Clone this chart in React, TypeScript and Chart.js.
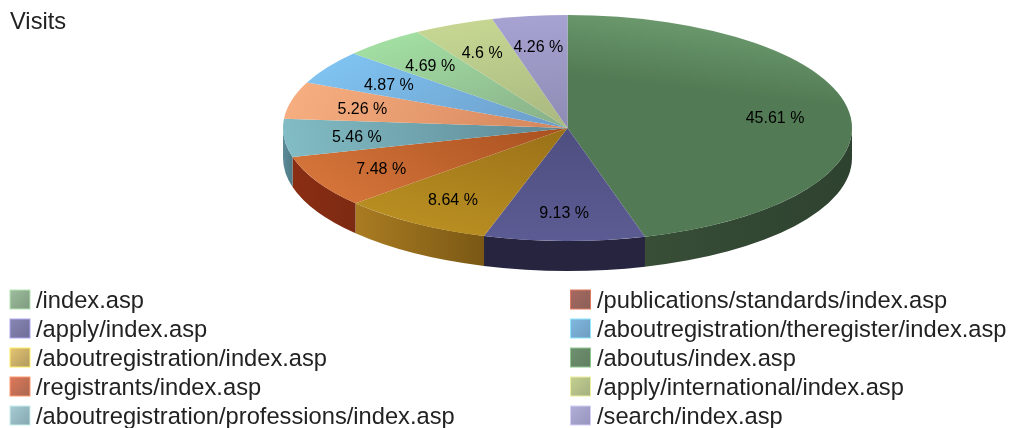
import React, { useEffect, useRef } from "react";
import { Chart, registerables } from "chart.js";

Chart.register(...registerables);

const chartTitle = "Visits";
const categories = [
  "/index.asp",
  "/apply/index.asp",
  "/aboutregistration/index.asp",
  "/registrants/index.asp",
  "/aboutregistration/professions/index.asp",
  "/publications/standards/index.asp",
  "/aboutregistration/theregister/index.asp",
  "/aboutus/index.asp",
  "/apply/international/index.asp",
  "/search/index.asp",
];
const shares = [45.61, 9.13, 8.64, 7.48, 5.46, 5.26, 4.87, 4.69, 4.6, 4.26];
const shareLabels = ["45.61 %", "9.13 %", "8.64 %", "7.48 %", "5.46 %", "5.26 %", "4.87 %", "4.69 %", "4.6 %", "4.26 %"];

const outerColors = ["#6a986c", "#5c5c94", "#b88e22", "#d4743a", "#82bcc4", "#f6ae80", "#7fc2f0", "#a2dea2", "#c6d692", "#a6a2d2"];
const innerColors = ["#527a54", "#4e4e80", "#9a7018", "#a8501f", "#5c8894", "#d4845a", "#6c9cc8", "#88ae88", "#a8b880", "#8e8cb4"];
const wallLeftColors = ["#384e36", "#26243f", "#aa7c22", "#8a2e14", "#5c8a98", "#000", "#000", "#000", "#000", "#000"];
const wallRightColors = ["#2e4230", "#26243f", "#7a5814", "#7c2a12", "#4e7a86", "#000", "#000", "#000", "#000", "#000"];

const swatchBorders = ["#b6e6b6", "#b0a8f0", "#ffee66", "#ff9a70", "#c8f0f0", "#e07a60", "#90e8ff", "#90c890", "#eef0a0", "#d4d0f8"];
const swatchLight = ["#9dbd9d", "#8886b4", "#e4c672", "#e0785a", "#a8ccd4", "#a86860", "#80b8e0", "#6f9070", "#c4d090", "#b0aed8"];
const swatchDark = ["#7f9a7f", "#6f6e96", "#b09860", "#a86850", "#85a8b0", "#8a6058", "#6f9cc0", "#5f7f60", "#a4b080", "#9794bc"];

const RX = 284.5;
const RY = 113;
const DEPTH = 30;
const K = RY / RX;
const CX = 567.5;
const CY = 128;
const FONT = '"Liberation Sans", Arial, sans-serif';

function sliceGradient(context: any) {
  const i = context.dataIndex;
  const g = context.chart.ctx;
  let acc = 0;
  for (let n = 0; n < i; n++) acc += shares[n];
  const start = -Math.PI / 2 + (acc / 100) * Math.PI * 2;
  const span = (shares[i] / 100) * Math.PI * 2;
  const wide = span > Math.PI / 2;
  const a = wide ? start + span * 0.1 : start + span / 2;
  const x0 = CX + RX * Math.cos(a);
  const y0 = CY + RX * Math.sin(a);
  const f = wide ? 0.45 : 0;
  const x1 = CX + RX * f * Math.cos(a);
  const y1 = CY + RX * f * Math.sin(a);
  const grad = g.createLinearGradient(x0, y0, x1, y1);
  grad.addColorStop(0, outerColors[i]);
  grad.addColorStop(1, innerColors[i]);
  return grad;
}

const piePlugin = {
  id: "pie3d",
  beforeDatasetsDraw(chart: any) {
    const { ctx } = chart;
    const arcs = chart.getDatasetMeta(0).data;
    ctx.save();
    arcs.forEach((arc: any, i: number) => {
      const a0 = Math.max(arc.startAngle, 0);
      const a1 = Math.min(arc.endAngle, Math.PI);
      if (a1 <= a0) return;
      const x0 = arc.x + RX * Math.cos(a1);
      const x1 = arc.x + RX * Math.cos(a0);
      const grad = ctx.createLinearGradient(x0, 0, x1, 0);
      grad.addColorStop(0, wallLeftColors[i]);
      grad.addColorStop(1, wallRightColors[i]);
      ctx.beginPath();
      ctx.ellipse(arc.x, arc.y, RX, RY, 0, a0, a1);
      ctx.ellipse(arc.x, arc.y + DEPTH, RX, RY, 0, a1, a0, true);
      ctx.closePath();
      ctx.fillStyle = grad;
      ctx.fill();
    });
    ctx.restore();
    ctx.save();
    ctx.translate(CX, CY);
    ctx.scale(1, K);
    ctx.translate(-CX, -CY);
  },
  afterDatasetsDraw(chart: any) {
    const { ctx } = chart;
    ctx.restore();
    const arcs = chart.getDatasetMeta(0).data;
    ctx.save();
    ctx.fillStyle = "#000";
    ctx.font = `16px ${FONT}`;
    ctx.textAlign = "center";
    ctx.textBaseline = "middle";
    arcs.forEach((arc: any, i: number) => {
      const mid = (arc.startAngle + arc.endAngle) / 2;
      const x = arc.x + RX * 0.74 * Math.cos(mid) - 1;
      const y = arc.y + RY * 0.74 * Math.sin(mid) + 2;
      ctx.fillText(shareLabels[i], x, y);
    });
    ctx.restore();
  },
  afterDraw(chart: any) {
    const { ctx } = chart;
    ctx.save();
    ctx.textBaseline = "middle";
    ctx.textAlign = "left";
    ctx.font = `23.7px ${FONT}`;
    ctx.fillStyle = "#222";
    ctx.fillText(chartTitle, 10, 22);
    categories.forEach((label, i) => {
      const col = i < 5 ? 0 : 1;
      const row = i % 5;
      const sx = col === 0 ? 10 : 570.5;
      const sy = 290 + row * 29;
      const grad = ctx.createLinearGradient(sx, sy, sx + 20, sy + 19);
      grad.addColorStop(0, swatchLight[i]);
      grad.addColorStop(1, swatchDark[i]);
      ctx.fillStyle = grad;
      ctx.fillRect(sx, sy, 20, 19);
      ctx.strokeStyle = swatchBorders[i];
      ctx.lineWidth = 1;
      ctx.strokeRect(sx, sy, 20, 19);
      ctx.fillStyle = "#222";
      ctx.fillText(label, col === 0 ? 36 : 597, sy + 11);
    });
    ctx.restore();
  },
};

export default function App() {
  const ref = useRef<HTMLCanvasElement>(null);
  useEffect(() => {
    if (!ref.current) return;
    const chart = new Chart(ref.current, {
      type: "pie",
      data: {
        labels: categories,
        datasets: [
          {
            data: shares,
            backgroundColor: sliceGradient,
            borderWidth: 0,
            radius: RX,
            clip: false,
          } as any,
        ],
      },
      options: {
        responsive: false,
        animation: false,
        layout: { padding: { left: 2 * CX - 1011 > 0 ? 2 * CX - 1011 : 0, right: 0, top: 0, bottom: 428 - 2 * CY } },
        plugins: { legend: { display: false }, tooltip: { enabled: false }, title: { display: false } },
      },
      plugins: [piePlugin],
    });
    return () => chart.destroy();
  }, []);
  return (
    <canvas
      ref={ref}
      width={1011}
      height={428}
      style={{ position: "absolute", left: 0, top: 0, display: "block", filter: "blur(0.7px)" }}
    />
  );
}
